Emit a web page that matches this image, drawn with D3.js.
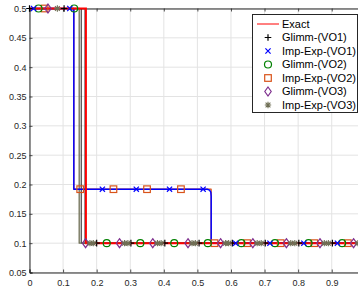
<!DOCTYPE html>
<html><head><meta charset="utf-8">
<script src="https://cdn.jsdelivr.net/npm/d3@7"></script>
<style>
html,body{margin:0;padding:0;background:#fff;}
svg{display:block;font-family:"Liberation Sans",Arial,sans-serif;}
</style></head>
<body>
<svg id="c" width="358" height="288"></svg>
<script>
// ---- data ----
const xTicks = [0, 0.1, 0.2, 0.3, 0.4, 0.5, 0.6, 0.7, 0.8, 0.9, 1];
const xLabelTicks = [0, 0.1, 0.2, 0.3, 0.4, 0.5, 0.6, 0.7, 0.8, 0.9];
const xTickLabels = ["0","0.1","0.2","0.3","0.4","0.5","0.6","0.7","0.8","0.9"];
const yTicks = [0.05, 0.1, 0.15, 0.2, 0.25, 0.3, 0.35, 0.4, 0.45, 0.5];
const yTickLabels = ["0.05","0.1","0.15","0.2","0.25","0.3","0.35","0.4","0.45","0.5"];

const legendNames = ["Exact","Glimm-(VO1)","Imp-Exp-(VO1)","Glimm-(VO2)","Imp-Exp-(VO2)","Glimm-(VO3)","Imp-Exp-(VO3)"];

// profiles (x, y breakpoints)
const exactX = [0, 0.168, 0.168, 1];
const exactY = [0.5, 0.5, 0.1, 0.1];
const glimm1X = [0, 0.154, 0.154, 1];
const glimm1Y = [0.5, 0.5, 0.1, 0.1];
const impExp1X = [0, 0.132, 0.132, 0.530, 0.536, 0.540, 0.541, 0.541, 1];
const impExp1Y = [0.5, 0.5, 0.192, 0.192, 0.1905, 0.187, 0.18, 0.1, 0.1];
const glimm2X = [0, 0.166, 0.166, 1];
const glimm2Y = [0.5, 0.5, 0.1, 0.1];
const impExp2X = [0, 0.132, 0.132, 0.541, 0.541, 1];
const impExp2Y = [0.5, 0.5, 0.192, 0.192, 0.1, 0.1];
const glimm3X = [0, 0.166, 0.166, 1];
const glimm3Y = [0.5, 0.5, 0.1, 0.1];
const impExp3X = [0, 0.148, 0.148, 1];
const impExp3Y = [0.5, 0.5, 0.1, 0.1];

// marker sample positions
const glimm1M = [0, 0.103, 0.2, 0.302, 0.403, 0.505, 0.604, 0.702, 0.802, 0.902, 1.0];
const impExp1M = [0.012, 0.12, 0.217, 0.318, 0.417, 0.517, 0.614, 0.716, 0.817, 0.917];
const glimm2M = [0.027, 0.133, 0.23, 0.33, 0.431, 0.531, 0.631, 0.731, 0.831, 0.931];
const impExp2M = [0.045, 0.151, 0.25, 0.35, 0.451, 0.551, 0.648, 0.748, 0.848, 0.948];
const glimm3M = [0.055, 0.167, 0.268, 0.367, 0.472, 0.569, 0.665, 0.765, 0.865, 0.965];
const impExp3M = [0.083, 0.18, 0.19, 0.283, 0.293, 0.381, 0.392, 0.484, 0.494, 0.584, 0.593, 0.678, 0.69, 0.778, 0.79, 0.878, 0.89, 0.978, 0.99];

const series = [
  {name:"Glimm-(VO1)", xs:glimm1X, ys:glimm1Y, m:glimm1M, color:"#000000", sym:"plus", lw:0.9},
  {name:"Imp-Exp-(VO1)", xs:impExp1X, ys:impExp1Y, m:impExp1M, color:"#0000ff", sym:"x", lw:1.5},
  {name:"Glimm-(VO2)", xs:glimm2X, ys:glimm2Y, m:glimm2M, color:"#008000", sym:"circle", lw:1.2},
  {name:"Imp-Exp-(VO2)", xs:impExp2X, ys:impExp2Y, m:impExp2M, color:"#d95319", sym:"square", lw:1.2},
  {name:"Glimm-(VO3)", xs:glimm3X, ys:glimm3Y, m:glimm3M, color:"#7e2f8e", sym:"diamond", lw:1.2},
  {name:"Imp-Exp-(VO3)", xs:impExp3X, ys:impExp3Y, m:impExp3M, color:"#6f6f55", sym:"star", lw:1.3}
];
const drawOrder = [0, 3, 2, 4, 5, 1];

// ---- layout ----
const svg = d3.select("#c");
const L = 29.5, R = 365.3, T = 8.5, B = 272.5;
const x = d3.scaleLinear().domain([0, 1]).range([L, R]);
const y = d3.scaleLinear().domain([0.05, 0.5]).range([B, T]);
const tickColor = "#262626";

// grid
const grid = svg.append("g");
grid.selectAll("line.gx").data(xTicks).join("line")
  .attr("x1", d => x(d)).attr("x2", d => x(d)).attr("y1", T).attr("y2", B)
  .attr("stroke", "#e3e3e3").attr("stroke-width", 1);
grid.selectAll("line.gy").data(yTicks).join("line")
  .attr("x1", L).attr("x2", R).attr("y1", d => y(d)).attr("y2", d => y(d))
  .attr("stroke", "#e3e3e3").attr("stroke-width", 1);

function styleAxis(g){
  g.selectAll("path.domain").attr("stroke", tickColor).attr("stroke-width", 1);
  g.selectAll(".tick line").attr("stroke", tickColor).attr("stroke-width", 0.8);
  g.selectAll(".tick text").attr("fill", tickColor).attr("font-size", 9)
    .attr("font-family", "Liberation Sans, Arial, sans-serif");
}
// bottom axis line + ticks (incl. 1, off-image), labels for visible ticks
const axLine = svg.append("g").attr("transform", `translate(0,${B})`)
  .call(d3.axisBottom(x).tickValues(xTicks).tickSize(-3).tickFormat(""));
styleAxis(axLine);
const ax = svg.append("g").attr("transform", `translate(0,${B})`)
  .call(d3.axisBottom(x).tickValues(xLabelTicks).tickSize(0).tickPadding(7)
        .tickFormat((d,i) => xTickLabels[i]));
ax.select("path.domain").remove();
styleAxis(ax);
const axT = svg.append("g").attr("transform", `translate(0,${T})`)
  .call(d3.axisTop(x).tickValues(xTicks).tickSize(-3).tickFormat(""));
styleAxis(axT);
const ay = svg.append("g").attr("transform", `translate(${L},0)`)
  .call(d3.axisLeft(y).tickValues(yTicks).tickSize(-3).tickPadding(3)
        .tickFormat((d,i) => yTickLabels[i]));
styleAxis(ay);

// lines
const lineGen = d3.line().x(d => x(d[0])).y(d => y(d[1]));
const lineLayer = svg.append("g");
drawOrder.forEach(i => {
  const s = series[i];
  lineLayer.append("path")
    .attr("d", lineGen(s.xs.map((v, k) => [v, s.ys[k]])))
    .attr("fill", "none").attr("stroke", s.color).attr("stroke-width", s.lw)
    .attr("stroke-linejoin", "round");
});
lineLayer.append("path")
  .attr("d", lineGen(exactX.map((v, k) => [v, exactY[k]])))
  .attr("fill", "none").attr("stroke", "#ff0000").attr("stroke-width", 2);

function valueAt(xs, ys, xv){
  let v = ys[0];
  for (let k = 0; k < xs.length; k++) { if (xs[k] <= xv) v = ys[k]; }
  for (let k = 0; k < xs.length - 1; k++) {
    if (xv > xs[k] && xv < xs[k+1] && xs[k+1] > xs[k]) {
      const t = (xv - xs[k]) / (xs[k+1] - xs[k]);
      return ys[k] + t * (ys[k+1] - ys[k]);
    }
  }
  return v;
}

function marker(g, sym, cx, cy, color){
  const s = 3.3;
  if (sym === "plus") {
    g.append("path").attr("d", `M${cx-s},${cy}H${cx+s}M${cx},${cy-s}V${cy+s}`)
      .attr("stroke", color).attr("stroke-width", 1.2).attr("fill","none");
  } else if (sym === "x") {
    const a = 2.6;
    g.append("path").attr("d", `M${cx-a},${cy-a}L${cx+a},${cy+a}M${cx-a},${cy+a}L${cx+a},${cy-a}`)
      .attr("stroke", color).attr("stroke-width", 1.2).attr("fill","none");
  } else if (sym === "circle") {
    g.append("circle").attr("cx", cx).attr("cy", cy).attr("r", 3.5)
      .attr("stroke", color).attr("stroke-width", 1.2).attr("fill","none");
  } else if (sym === "square") {
    g.append("rect").attr("x", cx-3.3).attr("y", cy-3.3).attr("width", 6.6).attr("height", 6.6)
      .attr("stroke", color).attr("stroke-width", 1.2).attr("fill","none");
  } else if (sym === "diamond") {
    g.append("path").attr("d", `M${cx},${cy-4.5}L${cx+3.2},${cy}L${cx},${cy+4.5}L${cx-3.2},${cy}Z`)
      .attr("stroke", color).attr("stroke-width", 1.2).attr("fill","none");
  } else if (sym === "star") {
    const a = 2.4, b = 3.2;
    g.append("path").attr("d", `M${cx-b},${cy}H${cx+b}M${cx},${cy-b}V${cy+b}M${cx-a},${cy-a}L${cx+a},${cy+a}M${cx-a},${cy+a}L${cx+a},${cy-a}`)
      .attr("stroke", color).attr("stroke-width", 1.1).attr("fill","none");
  }
}

const mLayer = svg.append("g");
drawOrder.forEach(i => {
  const s = series[i];
  s.m.forEach(xv => {
    marker(mLayer, s.sym, x(xv), y(valueAt(s.xs, s.ys, xv)), s.color);
  });
});

// legend
const lg = svg.append("g");
lg.append("rect").attr("x", 252.5).attr("y", 14.5).attr("width", 105).attr("height", 98)
  .attr("fill", "#fff").attr("stroke", "#262626").attr("stroke-width", 1);
const rowY = k => 24 + k * 13.5;
lg.append("line").attr("x1", 257).attr("x2", 279).attr("y1", rowY(0)).attr("y2", rowY(0))
  .attr("stroke", "#ff0000").attr("stroke-width", 1);
series.forEach((s, i) => marker(lg, s.sym, 268, rowY(i+1), s.color));
lg.selectAll("text").data(legendNames).join("text")
  .attr("x", 282).attr("y", (d, k) => rowY(k)).attr("dy", "0.35em")
  .attr("font-size", 11).attr("fill", "#000").text(d => d);
</script>
</body></html>
